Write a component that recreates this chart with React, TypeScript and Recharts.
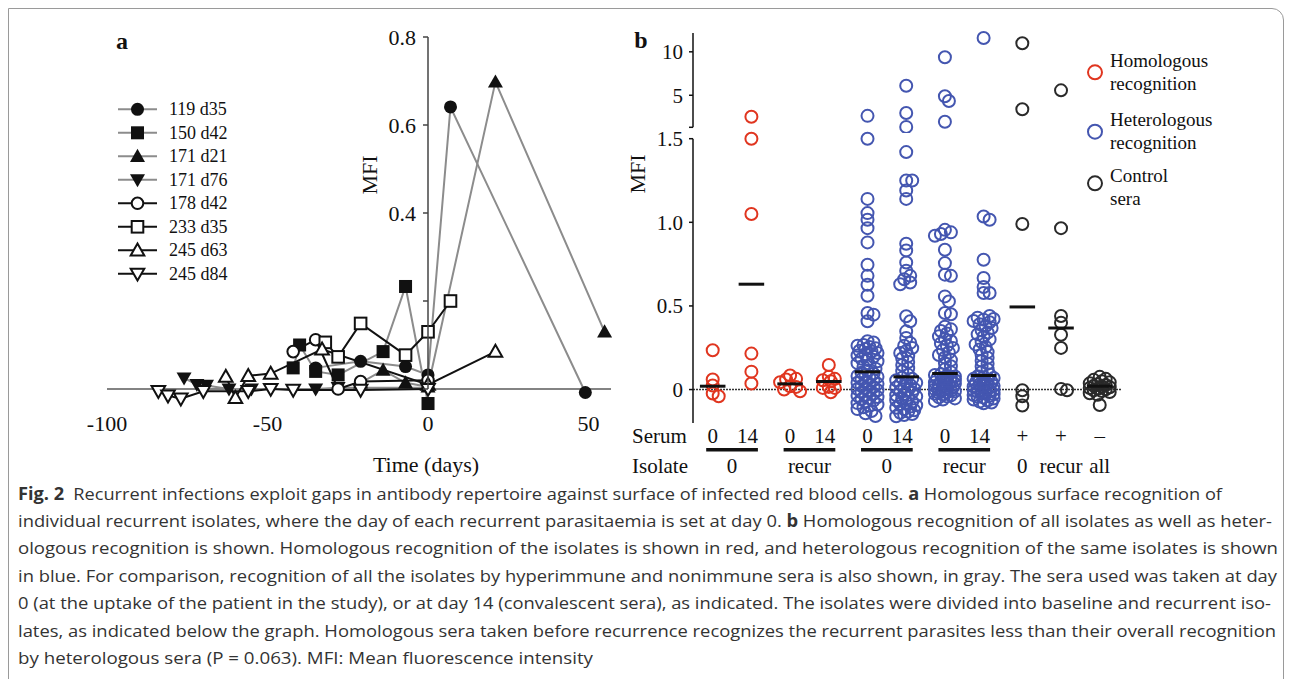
import React from 'react';
import { LineChart, Line, XAxis, YAxis, ReferenceLine, ScatterChart, Scatter } from 'recharts';

const SERIF = '"Liberation Serif", "Times New Roman", serif';
const SANS = '"Open Sans", "Noto Sans", sans-serif';
const INK = '#111111';
const AXIS = '#444444';
const RED = '#e0351f';
const BLUE = '#4456b0';
const CTRL = '#2a2a2a';

// ---------- panel a: homologous recognition over time ----------
const isolateNames = ['119 d35', '150 d42', '171 d21', '171 d76', '178 d42', '233 d35', '245 d63', '245 d84'];

const days119d35 = [-35, -21, -7, 0, 7, 49];
const mfi119d35 = [0.048, 0.063, 0.051, 0.032, 0.641, -0.008];
const days150d42 = [-42, -40, -35, -28, -14, -7, 0];
const mfi150d42 = [0.048, 0.1, 0.04, 0.032, 0.085, 0.233, -0.033];
const days171d21 = [-21, -14, -7, 0, 21, 55];
const mfi171d21 = [0.014, 0.043, 0.014, 0.005, 0.698, 0.13];
const days171d76 = [-76, -72, -69, -62, -55, -35, -28, 0];
const mfi171d76 = [0.025, 0.01, 0.008, 0.0, 0.0, 0.0, 0.003, 0.003];
const days178d42 = [-42, -35, -28, -21, 0];
const mfi178d42 = [0.085, 0.112, 0.0, 0.017, 0.02];
const days233d35 = [-32, -28, -21, -7, 0, 7];
const mfi233d35 = [0.106, 0.073, 0.149, 0.077, 0.13, 0.2];
const days245d63 = [-63, -60, -56, -49, -33, 0, 21];
const mfi245d63 = [0.028, -0.02, 0.03, 0.035, 0.09, 0.01, 0.085];
const days245d84 = [-84, -81, -77, -70, -56, -49, -42, -21, 0];
const mfi245d84 = [-0.005, -0.015, -0.022, -0.005, -0.005, 0.0, -0.002, -0.002, 0.0];

const timeTicks = [-100, -50, 0, 50];
const mfiTicksA = [0, 0.2, 0.4, 0.6, 0.8];
const mfiTickLabelsA = ['', '', '0.4', '0.6', '0.8'];

// ---------- panel b: MFI per serum / isolate group ----------
const hom0S0 = [0.235, 0.06, 0.024, -0.024, -0.04];
const hom0S14 = [3.55, 1.5, 1.05, 0.215, 0.107, 0.036];
const homRecurS0 = [0.084, 0.064, 0.06, 0.044, 0.02, 0.016, 0.0, -0.01];
const homRecurS14 = [0.147, 0.076, 0.064, 0.056, 0.05, 0.016, 0.01, 0.01, -0.016];
const het0S0 = [
  3.6, 1.5, 1.14, 1.055, 1.015, 0.965, 0.88, 0.746, 0.68, 0.627, 0.561, 0.458, 0.448, 0.408,
  0.289, 0.281, 0.266, 0.262, 0.255, 0.247, 0.243, 0.232, 0.228, 0.219, 0.211, 0.204, 0.196, 0.184,
  0.177, 0.169, 0.158, 0.146, 0.137, 0.125, 0.113, 0.101, 0.095, 0.088, 0.081, 0.076, 0.069, 0.061,
  0.055, 0.047, 0.041, 0.034, 0.028, 0.021, 0.015, 0.009, 0.003, -0.004, -0.011, -0.017, -0.024,
  -0.031, -0.037, -0.045, -0.052, -0.058, -0.066, -0.073, -0.081, -0.089, -0.097, -0.106, -0.117,
  -0.128, -0.142, -0.158,
];
const het0S14 = [
  5.82, 3.77, 3.02, 1.42, 1.25, 1.25, 1.19, 1.14, 0.872, 0.832, 0.76, 0.71, 0.68, 0.66, 0.64, 0.63,
  0.438, 0.408, 0.348, 0.309, 0.279, 0.262, 0.248, 0.231, 0.219, 0.2, 0.186, 0.165, 0.147, 0.128,
  0.109, 0.088, 0.071, 0.064, 0.056, 0.049, 0.041, 0.033, 0.027, 0.019, 0.012, 0.004, -0.003, -0.011,
  -0.018, -0.026, -0.034, -0.041, -0.049, -0.057, -0.064, -0.072, -0.079, -0.087, -0.094, -0.102,
  -0.109, -0.117, -0.124, -0.131, -0.139, -0.146, -0.152, -0.16,
];
const hetRecurS0 = [
  9.16, 4.92, 4.56, 3.28, 0.955, 0.94, 0.93, 0.92, 0.836, 0.756, 0.687, 0.68, 0.557, 0.527, 0.458,
  0.45, 0.376, 0.36, 0.35, 0.335, 0.318, 0.302, 0.29, 0.276, 0.262, 0.249, 0.236, 0.221, 0.207,
  0.192, 0.176, 0.158, 0.139, 0.121, 0.104, 0.092, 0.087, 0.083, 0.078, 0.074, 0.069, 0.064, 0.06,
  0.056, 0.051, 0.047, 0.043, 0.038, 0.034, 0.03, 0.026, 0.021, 0.017, 0.013, 0.009, 0.005, 0.001,
  -0.003, -0.007, -0.011, -0.016, -0.02, -0.025, -0.03, -0.035, -0.041, -0.047, -0.053, -0.06, -0.068,
];
const hetRecurS14 = [
  12.46, 1.035, 1.015, 0.776, 0.667, 0.613, 0.577, 0.577, 0.418, 0.44, 0.43, 0.422, 0.41, 0.402,
  0.391, 0.38, 0.368, 0.355, 0.341, 0.33, 0.316, 0.3, 0.284, 0.27, 0.255, 0.24, 0.224, 0.206, 0.19,
  0.172, 0.155, 0.138, 0.121, 0.105, 0.09, 0.079, 0.074, 0.069, 0.064, 0.059, 0.054, 0.049, 0.045,
  0.04, 0.036, 0.031, 0.027, 0.022, 0.018, 0.014, 0.01, 0.006, 0.002, -0.002, -0.006, -0.01, -0.014,
  -0.018, -0.023, -0.028, -0.033, -0.038, -0.043, -0.048, -0.054, -0.06, -0.066, -0.072, -0.077, -0.082,
];
const ctrlPos0 = [11.46, 4.0, 0.99, -0.004, -0.04, -0.095];
const ctrlPosRecur = [5.41, 0.965, 0.44, 0.4, 0.328, 0.249, 0.004, -0.004];
const ctrlNegAll = [
  0.076, 0.064, 0.058, 0.049, 0.043, 0.037, 0.031, 0.027, 0.022, 0.018, 0.014, 0.009, 0.005, 0.001,
  -0.004, -0.009, -0.015, -0.022, -0.031, -0.092,
];

const groupValues = [hom0S0, hom0S14, homRecurS0, homRecurS14, het0S0, het0S14, hetRecurS0, hetRecurS14, ctrlPos0, ctrlPosRecur, ctrlNegAll];
const groupMedians = [0.02, 0.63, 0.034, 0.048, 0.106, 0.076, 0.096, 0.084, 0.494, 0.368, 0.02];
const serumLabels = ['0', '14', '0', '14', '0', '14', '0', '14', '+', '+', '\u2013'];
const isolateLabels = ['0', '0', 'recur', 'recur', '0', '0', 'recur', 'recur', '0', 'recur', 'all'];
const lowerTicks = [0, 0.5, 1, 1.5];
const upperTicks = [3, 5, 10];
const upperTickLabels = ['', '5', '10'];
const legendB = [['Homologous', 'recognition'], ['Heterologous', 'recognition'], ['Control', 'sera']];

const captionLines: [string, boolean][][] = [
  [['Fig. 2', true], ['\u2002Recurrent infections exploit gaps in antibody repertoire against surface of infected red blood cells. ', false], ['a', true], [' Homologous surface recognition of', false]],
  [['individual recurrent isolates, where the day of each recurrent parasitaemia is set at day 0. ', false], ['b', true], [' Homologous recognition of all isolates as well as heter-', false]],
  [['ologous recognition is shown. Homologous recognition of the isolates is shown in red, and heterologous recognition of the same isolates is shown', false]],
  [['in blue. For comparison, recognition of all the isolates by hyperimmune and nonimmune sera is also shown, in gray. The sera used was taken at day', false]],
  [['0 (at the uptake of the patient in the study), or at day 14 (convalescent sera), as indicated. The isolates were divided into baseline and recurrent iso-', false]],
  [['lates, as indicated below the graph. Homologous sera taken before recurrence recognizes the recurrent parasites less than their overall recognition', false]],
  [['by heterologous sera (P = 0.063). MFI: Mean fluorescence intensity', false]],
];
const captionWidths = [1204, 1254, 1260, 1259, 1253, 1258, 575];

// ---------- layout ----------
const B_LEFT = 693;
const B_RIGHT = 1121.4;
const B_XDOMAIN: [number, number] = [0.491, 11.56];
const B_LOW_TOP = 138.7;
const B_LOW_BOTTOM = 423;
const B_LOW_DOMAIN: [number, number] = [-0.2, 1.5];
const B_UP_TOP = 33;
const B_UP_BOTTOM = 127.3;
const B_UP_DOMAIN: [number, number] = [3, 13.5];
const PX_PER_GROUP = (B_RIGHT - B_LEFT) / (B_XDOMAIN[1] - B_XDOMAIN[0]);
const MIN_GAP = 5.5;
const MAX_SHIFT = 10;
const MED_HALF = 0.33 * PX_PER_GROUP;

const yPixel = (v: number) =>
  v > 2
    ? B_UP_BOTTOM - (Math.log(v / B_UP_DOMAIN[0]) / Math.log(B_UP_DOMAIN[1] / B_UP_DOMAIN[0])) * (B_UP_BOTTOM - B_UP_TOP)
    : B_LOW_BOTTOM - ((v - B_LOW_DOMAIN[0]) / (B_LOW_DOMAIN[1] - B_LOW_DOMAIN[0])) * (B_LOW_BOTTOM - B_LOW_TOP);

// scatter-dot-plot spreading, like the original software does
function swarm(values: number[], group: number) {
  const placed: { dx: number; py: number }[] = [];
  return values.map((v) => {
    const py = yPixel(v);
    let best = 0;
    let bestGap = -1;
    search: for (let k = 0; k <= MAX_SHIFT; k += 2) {
      for (const s of k === 0 ? [0] : [k, -k]) {
        let gap = Infinity;
        for (const p of placed) gap = Math.min(gap, Math.hypot(p.dx - s, p.py - py));
        if (gap >= MIN_GAP) {
          best = s;
          break search;
        }
        if (gap > bestGap + 0.01) {
          bestGap = gap;
          best = s;
        }
      }
    }
    placed.push({ dx: best, py });
    return { x: group + best / PX_PER_GROUP, y: v };
  });
}

const groupPoints = groupValues.map((vals, i) => swarm(vals, i + 1));
const groupColors = [RED, RED, RED, RED, BLUE, BLUE, BLUE, BLUE, CTRL, CTRL, CTRL];
const groupIds = groupValues.map((_, i) => i + 1);
const medianPoints = groupMedians.map((m, i) => ({ x: i + 1, y: m }));

// consecutive runs of the same isolate label give the lower label row
const isoRuns: { label: string; start: number; end: number }[] = [];
isolateLabels.forEach((lab, i) => {
  const last = isoRuns[isoRuns.length - 1];
  if (last && last.label === lab && last.end === i) last.end = i + 1;
  else isoRuns.push({ label: lab, start: i + 1, end: i + 1 });
});

type Kind = 'circle' | 'square' | 'up' | 'down';
const markerKinds: Kind[] = ['circle', 'square', 'up', 'down', 'circle', 'square', 'up', 'down'];
const seriesDays = [days119d35, days150d42, days171d21, days171d76, days178d42, days233d35, days245d63, days245d84];
const seriesMfi = [mfi119d35, mfi150d42, mfi171d21, mfi171d76, mfi178d42, mfi233d35, mfi245d63, mfi245d84];
const seriesA = isolateNames.map((name, i) => ({
  name,
  kind: markerKinds[i],
  filled: i < 4,
  color: i < 4 ? '#8c8c8c' : INK,
  points: seriesDays[i].map((x, j) => ({ x, y: seriesMfi[i][j] })),
}));

const Marker = ({ cx, cy, kind, filled }: { cx: number; cy: number; kind: Kind; filled: boolean }) => {
  const fill = filled ? INK : '#ffffff';
  const stroke = filled ? 'none' : INK;
  const sw = filled ? 0 : 2;
  if (kind === 'circle') return <circle cx={cx} cy={cy} r={filled ? 6.5 : 5.8} fill={fill} stroke={stroke} strokeWidth={sw} />;
  if (kind === 'square') {
    const h = filled ? 6.5 : 5.8;
    return <rect x={cx - h} y={cy - h} width={2 * h} height={2 * h} fill={fill} stroke={stroke} strokeWidth={sw} />;
  }
  const h = filled ? 7.5 : 6.8;
  const pts =
    kind === 'up'
      ? `${cx},${cy - h} ${cx - h},${cy + h * 0.75} ${cx + h},${cy + h * 0.75}`
      : `${cx},${cy + h} ${cx - h},${cy - h * 0.75} ${cx + h},${cy - h * 0.75}`;
  return <polygon points={pts} fill={fill} stroke={stroke} strokeWidth={sw} strokeLinejoin="miter" />;
};

const ring = (color: string) => (p: any) => (
  <circle cx={p.cx} cy={p.cy} r={6} fill="none" stroke={color} strokeWidth={2} />
);
const medianBar = (p: any) => (
  <line x1={p.cx - MED_HALF} x2={p.cx + MED_HALF} y1={p.cy} y2={p.cy} stroke={INK} strokeWidth={3} />
);

const Txt = ({ x, y, size, children, anchor = 'middle', bold = false, rotate = 0, family = SERIF, color = INK }: any) => {
  const tx = anchor === 'start' ? '0' : anchor === 'end' ? '-100%' : '-50%';
  return (
    <div
      style={{
        position: 'absolute',
        left: x,
        top: y,
        transform: `translate(${tx}, -50%)${rotate ? ` rotate(${rotate}deg)` : ''}`,
        fontFamily: family,
        fontSize: size,
        fontWeight: bold ? 700 : 400,
        lineHeight: 1,
        whiteSpace: 'nowrap',
        color,
      }}
    >
      {children}
    </div>
  );
};

// serum label per group, plus the isolate bar + label under each run of groups
const GroupTick = (props: any) => {
  const { x, y, payload } = props;
  const g = Math.round(payload.value);
  const run = isoRuns.find((r) => r.start === g);
  let iso = null;
  if (run) {
    const cx = x + ((run.end - run.start) / 2) * PX_PER_GROUP;
    const half = ((run.end - run.start) / 2) * PX_PER_GROUP + 6.5;
    iso = (
      <g>
        {run.end > run.start && <rect x={cx - half} y={y + 20} width={2 * half} height={3.5} fill={INK} />}
        <text x={cx} y={y + 45} textAnchor="middle" fontFamily={SERIF} fontSize={21} fill={INK}>
          {run.label}
        </text>
      </g>
    );
  }
  const label = serumLabels[g - 1];
  return (
    <g>
      <text x={label.length > 1 ? x - 4 : x} y={y + 15} textAnchor="middle" fontFamily={SERIF} fontSize={21} fill={INK}>
        {label}
      </text>
      {iso}
    </g>
  );
};

const bTick = { fill: INK, fontSize: 21, fontFamily: SERIF };
const aTick = { fill: INK, fontSize: 22, fontFamily: SERIF };

export default function App() {
  const lowerW = 487;
  const chartBLeft = B_LEFT - 50;
  const rightMargin = chartBLeft + lowerW - B_RIGHT;
  return (
    <div style={{ position: 'absolute', left: 0, top: 0, width: 1293, height: 679, overflow: 'hidden', background: '#ffffff' }}>
      <div
        style={{
          position: 'absolute',
          left: 8,
          top: 8,
          width: 1276,
          height: 700,
          border: '1px solid #9a9a9a',
          borderTopRightRadius: 12,
          boxSizing: 'border-box',
        }}
      />

      {/* panel a */}
      <div style={{ position: 'absolute', left: 0, top: 0 }}>
        <LineChart width={640} height={480} margin={{ top: 37, right: 29, bottom: 39, left: 107 }}>
          <XAxis
            type="number"
            dataKey="x"
            domain={[-100, 57]}
            ticks={timeTicks}
            interval={0}
            axisLine={false}
            tickLine={false}
            tickSize={0}
            tickMargin={4}
            height={30}
            tick={aTick}
          />
          <YAxis type="number" dataKey="y" domain={[-0.05, 0.8]} hide />
          <ReferenceLine y={0} stroke="#5a5a5a" strokeWidth={1.5} />
          {seriesA.map((s) => (
            <Line
              key={s.name}
              data={s.points}
              dataKey="y"
              stroke={s.color}
              strokeWidth={2}
              isAnimationActive={false}
              activeDot={false}
              dot={(p: any) => <Marker key={`${s.name}-${p.index}`} cx={p.cx} cy={p.cy} kind={s.kind} filled={s.filled} />}
            />
          ))}
        </LineChart>
      </div>
      <div style={{ position: 'absolute', left: 428 - 70, top: 0 }}>
        <LineChart width={80} height={394} margin={{ top: 37, right: 10, bottom: 5, left: 0 }} data={[{ x: 0, y: 0 }]}>
          <XAxis type="number" dataKey="x" domain={[0, 1]} hide />
          <YAxis
            type="number"
            dataKey="y"
            domain={[0, 0.8]}
            ticks={mfiTicksA}
            interval={0}
            width={70}
            tickFormatter={(v: number, i: number) => mfiTickLabelsA[i]}
            axisLine={{ stroke: AXIS, strokeWidth: 1.5 }}
            tickLine={{ stroke: AXIS, strokeWidth: 1.5 }}
            tickSize={5}
            tickMargin={7}
            tick={aTick}
          />
        </LineChart>
      </div>
      <svg style={{ position: 'absolute', left: 0, top: 0 }} width={320} height={300}>
        {seriesA.map((s, i) => {
          const y = 109.3 + i * 23.5;
          return (
            <g key={s.name}>
              <line x1={118} x2={157} y1={y} y2={y} stroke={s.color} strokeWidth={2} />
              <Marker cx={137.5} cy={y} kind={s.kind} filled={s.filled} />
              <text x={169} y={y + 6} fontFamily={SERIF} fontSize={18} fill={INK}>
                {s.name}
              </text>
            </g>
          );
        })}
      </svg>
      <Txt x={122} y={41} size={24} bold>a</Txt>
      <Txt x={370} y={175} size={22} rotate={-90}>MFI</Txt>
      <Txt x={426} y={465} size={22}>Time (days)</Txt>

      {/* panel b, upper (broken) segment */}
      <div style={{ position: 'absolute', left: chartBLeft, top: 0 }}>
        <ScatterChart width={lowerW} height={133} margin={{ top: B_UP_TOP, right: rightMargin, bottom: 133 - B_UP_BOTTOM, left: 0 }}>
          <XAxis type="number" dataKey="x" domain={B_XDOMAIN} hide />
          <YAxis
            type="number"
            dataKey="y"
            scale="log"
            domain={B_UP_DOMAIN}
            ticks={upperTicks}
            interval={0}
            width={50}
            tickFormatter={(v: number, i: number) => upperTickLabels[i]}
            axisLine={{ stroke: INK, strokeWidth: 1.5 }}
            tickLine={{ stroke: INK, strokeWidth: 1.5 }}
            tickSize={4}
            tickMargin={6}
            tick={bTick}
          />
          {groupPoints.map((pts, i) => (
            <Scatter key={i} data={pts.filter((p) => p.y > 2)} shape={ring(groupColors[i])} isAnimationActive={false} />
          ))}
        </ScatterChart>
      </div>

      {/* panel b, lower segment */}
      <div style={{ position: 'absolute', left: chartBLeft, top: 0 }}>
        <ScatterChart width={lowerW} height={495} margin={{ top: B_LOW_TOP, right: rightMargin, bottom: 5, left: 0 }}>
          <XAxis
            type="number"
            dataKey="x"
            domain={B_XDOMAIN}
            ticks={groupIds}
            interval={0}
            axisLine={false}
            tickLine={false}
            tickSize={0}
            tickMargin={5}
            height={495 - 5 - B_LOW_BOTTOM}
            tick={<GroupTick />}
          />
          <YAxis
            type="number"
            dataKey="y"
            domain={B_LOW_DOMAIN}
            ticks={lowerTicks}
            interval={0}
            width={50}
            tickFormatter={(v: number) => (v === 0 ? '0' : v.toFixed(1))}
            axisLine={{ stroke: INK, strokeWidth: 1.5 }}
            tickLine={{ stroke: INK, strokeWidth: 1.5 }}
            tickSize={4}
            tickMargin={6}
            tick={bTick}
          />
          <ReferenceLine y={0} stroke="#333333" strokeWidth={1.5} strokeDasharray="2 1" />
          {groupPoints.map((pts, i) => (
            <Scatter key={i} data={pts.filter((p) => p.y <= 2)} shape={ring(groupColors[i])} isAnimationActive={false} />
          ))}
          <Scatter data={medianPoints} shape={medianBar} isAnimationActive={false} />
        </ScatterChart>
      </div>
      <Txt x={641} y={40} size={24} bold>b</Txt>
      <Txt x={638} y={174} size={22} rotate={-90}>MFI</Txt>
      <Txt x={632} y={436} size={21} anchor="start">Serum</Txt>
      <Txt x={632} y={466} size={21} anchor="start">Isolate</Txt>

      <svg style={{ position: 'absolute', left: 0, top: 0 }} width={1293} height={230}>
        {legendB.map((lines, i) => {
          const cy = [72.3, 131.7, 183.3][i];
          const color = [RED, BLUE, CTRL][i];
          const top = [60, 119.3, 175][i];
          return (
            <g key={i}>
              <circle cx={1095} cy={cy} r={7} fill="none" stroke={color} strokeWidth={2} />
              {lines.map((t, j) => (
                <text key={j} x={1110} y={top + j * 23 + 6.5} fontFamily={SERIF} fontSize={19} fill={INK}>
                  {t}
                </text>
              ))}
            </g>
          );
        })}
      </svg>

      {/* caption */}
      <svg style={{ position: 'absolute', left: 0, top: 0 }} width={1293} height={679}>
        {captionLines.map((parts, i) => (
          <text
            key={i}
            x={18}
            y={499.5 + i * 27.4}
            textLength={captionWidths[i]}
            lengthAdjust="spacingAndGlyphs"
            fontFamily={SANS}
            fontSize={17}
            fill="#333333"
          >
            {parts.map(([t, b], j) => (
              <tspan key={j} fontWeight={b ? 700 : 400}>
                {t}
              </tspan>
            ))}
          </text>
        ))}
      </svg>
    </div>
  );
}
